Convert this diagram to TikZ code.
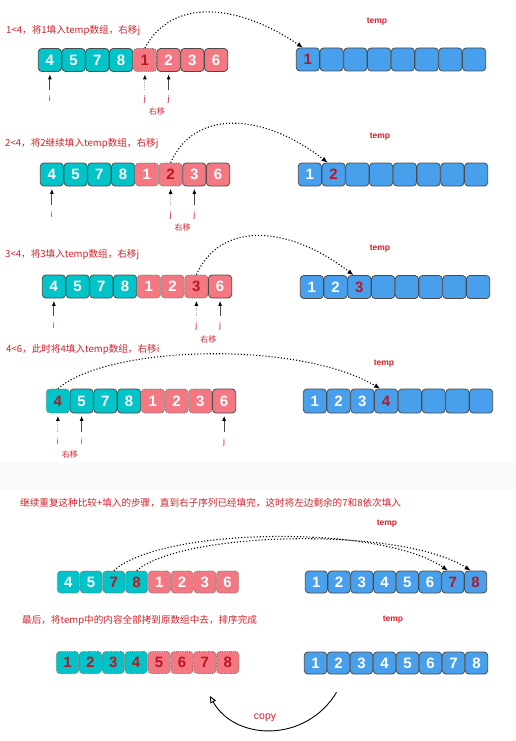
\documentclass[tikz,border=0pt]{standalone}
\usepackage{fontspec}
\setmainfont{Liberation Sans}
\newfontfamily\cjk{Noto Sans CJK SC}
\usetikzlibrary{arrows.meta,calc}
\definecolor{tealc}{RGB}{0,196,199}
\definecolor{pinkc}{RGB}{243,120,130}
\definecolor{bluec}{RGB}{72,159,235}
\definecolor{bord}{RGB}{75,75,75}
\definecolor{dotc}{RGB}{110,110,110}
\definecolor{numred}{RGB}{185,22,38}
\definecolor{txtred}{RGB}{208,35,45}
\definecolor{bandc}{RGB}{249,249,249}
\tikzset{
  cellbase/.style={draw=bord, line width=0.8pt, rounded corners=3.5pt, inner sep=0pt,
    font=\fontsize{15}{15}\selectfont\bfseries, text=white},
  T/.style={cellbase, fill=tealc},
  Td/.style={T, draw=dotc, densely dotted},
  TdR/.style={Td, text=numred},
  P/.style={cellbase, fill=pinkc},
  Pd/.style={P, draw=dotc, densely dotted},
  PdR/.style={Pd, text=numred},
  B/.style={cellbase, fill=bluec},
  BR/.style={B, text=numred},
  title/.style={anchor=west, inner sep=0pt, text=txtred, font=\cjk\fontsize{9.6}{12}\selectfont},
  templbl/.style={inner sep=0pt, text=txtred, font=\fontsize{8.5}{10}\selectfont\bfseries},
  ptrlbl/.style={inner sep=0pt, text=txtred, text height=6pt, text depth=2pt, font=\fontsize{8.5}{10}\selectfont},
  shiftlbl/.style={inner sep=0pt, text=txtred, font=\cjk\fontsize{8}{10}\selectfont},
  ptr/.style={draw=bord, line width=0.8pt, -{Latex[length=5pt,width=4pt,color=black]}, shorten <=6pt, shorten >=2.5pt},
  ptrd/.style={ptr, draw=gray!55, densely dotted},
  arcline/.style={black, line width=1.1pt, dotted, -{Latex[length=6pt,width=5pt]}},
  copyarrow/.style={black, line width=0.9pt, -{Triangle[open,length=7pt,width=6pt]}},
}
\newcommand\cellrow[6]{%
  \foreach \v/\s [count=\k] in {#6} {
    \node[\s, minimum width=#4pt-0.6pt, minimum height=#5pt] (#1\k) at ({#2+(\k-0.5)*#4},#3) {\v};
  }%
}
\begin{document}
\begin{tikzpicture}[x=1pt,y=-1pt]
\fill[white] (0,0) rectangle (516,741);
\useasboundingbox (0,0) rectangle (516,741);
\fill[bandc] (0,463) rectangle (516,489);

% ---------- row 1 ----------
\node[title] (h1) at (6,31) {1<4，将1填入temp数组，右移j};
\node[templbl] (tl1) at (377,22) {temp};
\cellrow{a1}{38}{60}{23.75}{23}{4/T,5/T,7/T,8/T,1/PdR,2/P,3/P,6/P}
\cellrow{b1}{296}{59.5}{23.75}{23}{1/BR,{}/B,{}/B,{}/B,{}/B,{}/B,{}/B,{}/B}
\node[ptrlbl] (i1) at ($(a11.south)+(0,28)$) {i};
\node[ptrlbl] (j1a) at ($(a15.south)+(0,28)$) {j};
\node[ptrlbl] (j1b) at ($(a16.south)+(0,28)$) {j};
\node[shiftlbl] (s1) at ($(a15.south)!0.5!(a16.south)+(0,40)$) {右移};
\draw[ptr] (i1.north) -- (a11.south);
\draw[ptrd] (j1a.north) -- (a15.south);
\draw[ptr] (j1b.north) -- (a16.south);
\draw[arcline] (a15.north) .. controls +(26,-49) and +(-68,-46) .. ([xshift=-5pt]b11.north);

% ---------- row 2 ----------
\node[title] (h2) at (5,144) {2<4，将2继续填入temp数组，右移j};
\node[templbl] (tl2) at (380,137) {temp};
\cellrow{a2}{40}{174.5}{23.75}{23}{4/T,5/T,7/T,8/T,1/Pd,2/PdR,3/P,6/P}
\cellrow{b2}{298}{174.5}{23.75}{23}{1/B,2/BR,{}/B,{}/B,{}/B,{}/B,{}/B,{}/B}
\node[ptrlbl] (i2) at ($(a21.south)+(0,29)$) {i};
\node[ptrlbl] (j2a) at ($(a26.south)+(0,29)$) {j};
\node[ptrlbl] (j2b) at ($(a27.south)+(0,29)$) {j};
\node[shiftlbl] (s2) at ($(a26.south)!0.5!(a27.south)+(0,41)$) {右移};
\draw[ptr] (i2.north) -- (a21.south);
\draw[ptrd] (j2a.north) -- (a26.south);
\draw[ptr] (j2b.north) -- (a27.south);
\draw[arcline] (a26.north) .. controls +(25,-55) and +(-63,-49) .. ([xshift=-6pt]b22.north);

% ---------- row 3 ----------
\node[title] (h3) at (5,255) {3<4，将3填入temp数组，右移j};
\node[templbl] (tl3) at (380,249) {temp};
\cellrow{a3}{42}{286.5}{23.75}{23}{4/T,5/T,7/T,8/T,1/Pd,2/Pd,3/PdR,6/P}
\cellrow{b3}{300}{287}{23.75}{23}{1/B,2/B,3/BR,{}/B,{}/B,{}/B,{}/B,{}/B}
\node[ptrlbl] (i3) at ($(a31.south)+(0,28)$) {i};
\node[ptrlbl] (j3a) at ($(a37.south)+(0,28)$) {j};
\node[ptrlbl] (j3b) at ($(a38.south)+(0,28)$) {j};
\node[shiftlbl] (s3) at ($(a37.south)!0.5!(a38.south)+(0,41)$) {右移};
\draw[ptr] (i3.north) -- (a31.south);
\draw[ptrd] (j3a.north) -- (a37.south);
\draw[ptr] (j3b.north) -- (a38.south);
\draw[arcline] (a37.north) .. controls +(25,-55) and +(-63,-49) .. ([xshift=-6pt]b33.north);

% ---------- row 4 ----------
\node[title] (h4) at (6,350) {4<6，此时将4填入temp数组，右移i};
\node[templbl] (tl4) at (384,364) {temp};
\cellrow{a4}{46}{401}{23.75}{24}{4/TdR,5/T,7/T,8/T,1/Pd,2/Pd,3/Pd,6/P}
\cellrow{b4}{303}{401}{23.75}{24}{1/B,2/B,3/B,4/BR,{}/B,{}/B,{}/B,{}/B}
\node[ptrlbl] (i4a) at ($(a41.south)+(0,29)$) {i};
\node[ptrlbl] (i4b) at ($(a42.south)+(0,29)$) {i};
\node[ptrlbl] (j4) at ($(a48.south)+(0,29)$) {j};
\node[shiftlbl] (s4) at ($(a41.south)!0.5!(a42.south)+(0,41)$) {右移};
\draw[ptrd] (i4a.north) -- (a41.south);
\draw[ptr] (i4b.north) -- (a42.south);
\draw[ptr] (j4.north) -- (a48.south);
\draw[arcline] (a41.north) .. controls +(52,-44) and +(-81,-48) .. ([xshift=-6pt]b44.north);

% ---------- row 5 ----------
\node[title] (h5) at (20,503) {继续重复这种比较+填入的步骤，直到右子序列已经填完，这时将左边剩余的7和8依次填入};
\node[templbl] (tl5) at (387,524) {temp};
\cellrow{a5}{57}{582}{22.75}{22}{4/Td,5/Td,7/TdR,8/TdR,1/Pd,2/Pd,3/Pd,6/Pd}
\cellrow{b5}{305}{582}{22.75}{22}{1/B,2/B,3/B,4/B,5/B,6/B,7/BR,8/BR}
\draw[arcline] (a53.north) .. controls +(47,-43) and +(-68,-47) .. ([xshift=-5pt]b57.north);
\draw[arcline] (a54.north) .. controls +(47,-40) and +(-68,-44) .. ([xshift=-5pt]b58.north);

% ---------- row 6 ----------
\node[title] (h6) at (22,621) {最后，将temp中的内容全部拷到原数组中去，排序完成};
\node[templbl] (tl6) at (393,620) {temp};
\cellrow{a6}{56}{662.5}{22.9}{22}{1/TdR,2/TdR,3/TdR,4/TdR,5/PdR,6/PdR,7/PdR,8/PdR}
\cellrow{b6}{304}{663}{23}{22}{1/B,2/B,3/B,4/B,5/B,6/B,7/B,8/B}
\coordinate (cs) at ($(b62.south)+(-2,18)$);
\coordinate (ce) at ($(a67.south)+(5,22)$);
\draw[copyarrow] (cs) .. controls +(-31,51) and +(25,45) .. (ce);
\node[inner sep=0pt, text=txtred, font=\fontsize{10.5}{12}\selectfont] (cp) at (265,718) {copy};
\end{tikzpicture}
\end{document}
